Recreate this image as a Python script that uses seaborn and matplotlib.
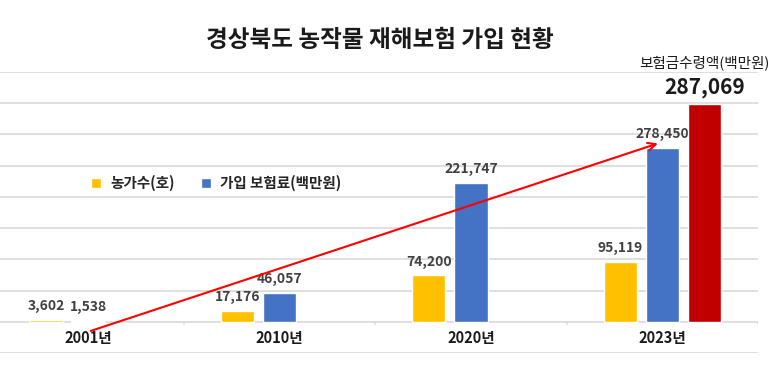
import pandas as pd
import seaborn as sns
import matplotlib.pyplot as plt

# data
years = ["2001년", "2010년", "2020년", "2023년"]
farms = [3602, 17176, 74200, 95119]            # 농가수(호)
premiums = [1538, 46057, 221747, 278450]       # 가입 보험료(백만원)
payout_year = ["2023년"]
payout = [287069]                              # 보험금수령액(백만원)

series = ["농가수(호)", "가입 보험료(백만원)", "보험금수령액(백만원)"]
colors = ["#FFC000", "#4472C4", "#C00000"]

df = pd.concat([
    pd.DataFrame({"year": years, "value": farms, "series": series[0]}),
    pd.DataFrame({"year": years, "value": premiums, "series": series[1]}),
])
df_pay = pd.DataFrame({"year": payout_year, "value": payout, "series": series[2]})

sns.set_style("white")
plt.rcParams["font.family"] = ["Noto Sans CJK KR", "DejaVu Sans"]

fig = plt.figure(figsize=(7.8, 3.85), dpi=100)
ax = fig.add_axes([0.0, 0.083, 0.972, 0.73])

sns.barplot(data=df, x="year", y="value", hue="series", order=years,
            hue_order=series, palette=colors, width=0.66, gap=0.21,
            dodge=True, saturation=1, legend=False, ax=ax, zorder=3)

# payout bar drawn on its own (hidden) scale, like the original
ax2 = ax.twinx()
sns.barplot(data=df_pay, x="year", y="value", hue="series", order=years,
            hue_order=series, palette=colors, width=0.66, gap=0.21,
            dodge=True, saturation=1, legend=False, ax=ax2, zorder=3)

k = 0.823
ax.set_ylim(-50000, 400000)
ax2.set_ylim(-50000 * k, 400000 * k)
ax.set_xlim(-0.46, 3.5)
ax2.set_xlim(-0.46, 3.5)

ax.set_yticks(range(-50000, 400001, 50000))
ax.yaxis.grid(True, color="#d9d9d9", lw=1.2, zorder=0)
ax.set_axisbelow(True)
for a in (ax, ax2):
    a.set_yticklabels([])
    a.set_xticks([])
    a.set_xlabel("")
    a.set_ylabel("")
    a.tick_params(left=False, right=False, bottom=False)
    for s in a.spines.values():
        s.set_visible(False)

# small category separators on the baseline
for b in [0.5, 1.5, 2.5, 3.5]:
    ax.plot([b, b], [-3500, 0], color="#d9d9d9", lw=1.2)

# category labels between baseline and bottom line
for i, y in enumerate(years):
    ax.text(i, -25600, y, ha="center", va="center", fontsize=10.5,
            fontweight="bold", color="#1a1a1a")

# value labels
for c in ax.containers[:2]:
    ax.bar_label(c, fmt="{:,.0f}", padding=5, fontsize=10,
                 color="#404040", fontweight="bold")
ax2.bar_label(ax2.containers[-1], fmt="{:,.0f}", padding=4, fontsize=15,
              fontweight="bold", color="#1a1a1a")
ax2.bar_label(ax2.containers[-1], labels=[series[2]], padding=24,
              fontsize=10.5, fontweight="medium", color="#1a1a1a")

# trend arrow
ax.annotate("", xy=(2.99, 287000), xytext=(0, -16000),
            arrowprops=dict(arrowstyle="->", color="#FF0000", lw=1.5,
                            mutation_scale=14))

# legend (first two series only)
ax.legend(handles=[ax.containers[0], ax.containers[1]],
          labels=series[:2], loc="center left",
          bbox_to_anchor=(0.10, 0.525), bbox_transform=fig.transFigure,
          ncol=2, frameon=False, handlelength=0.7, handleheight=0.7,
          handletextpad=0.6, columnspacing=1.8,
          prop={"size": 10.5, "weight": "bold"})

fig.text(0.487, 0.895, "경상북도 농작물 재해보험 가입 현황", ha="center",
         va="center", fontsize=17, fontweight="bold", color="#1a1a1a")

plt.savefig("out.png", dpi=100)
